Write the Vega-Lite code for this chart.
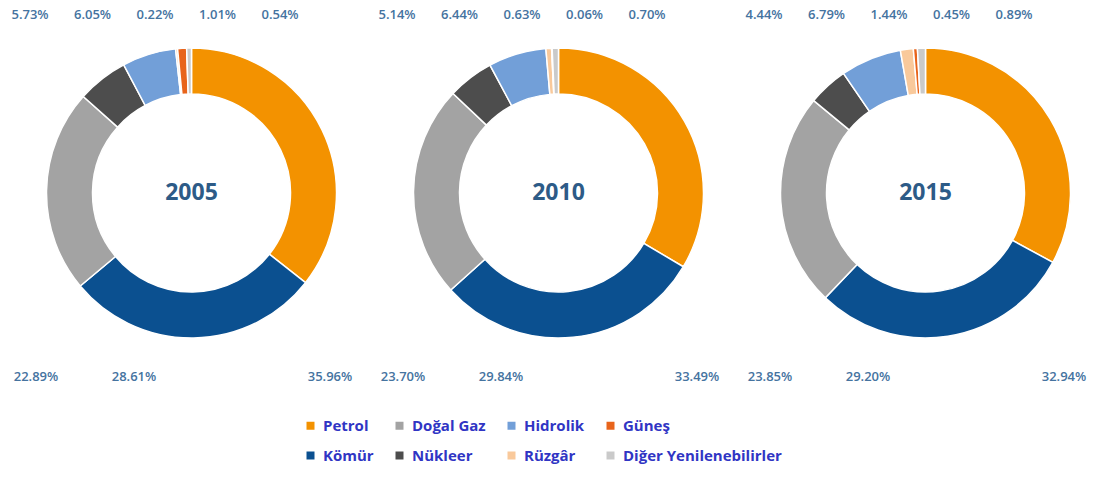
{
  "$schema": "https://vega.github.io/schema/vega-lite/v6.json",
  "padding": {"left": 8, "top": 0, "right": 0, "bottom": 0},
  "background": "white",
  "data": {"values": [
    {"Yil": "2005", "Kaynak": "Petrol", "Pay": 0.3596, "Sira": 1},
    {"Yil": "2005", "Kaynak": "Kömür", "Pay": 0.2861, "Sira": 2},
    {"Yil": "2005", "Kaynak": "Doğal Gaz", "Pay": 0.2289, "Sira": 3},
    {"Yil": "2005", "Kaynak": "Nükleer", "Pay": 0.0573, "Sira": 4},
    {"Yil": "2005", "Kaynak": "Hidrolik", "Pay": 0.0605, "Sira": 5},
    {"Yil": "2005", "Kaynak": "Rüzgâr", "Pay": 0.0022, "Sira": 6},
    {"Yil": "2005", "Kaynak": "Güneş", "Pay": 0.0101, "Sira": 7},
    {"Yil": "2005", "Kaynak": "Diğer Yenilenebilirler", "Pay": 0.0054, "Sira": 8},
    {"Yil": "2010", "Kaynak": "Petrol", "Pay": 0.3349, "Sira": 1},
    {"Yil": "2010", "Kaynak": "Kömür", "Pay": 0.2984, "Sira": 2},
    {"Yil": "2010", "Kaynak": "Doğal Gaz", "Pay": 0.2370, "Sira": 3},
    {"Yil": "2010", "Kaynak": "Nükleer", "Pay": 0.0514, "Sira": 4},
    {"Yil": "2010", "Kaynak": "Hidrolik", "Pay": 0.0644, "Sira": 5},
    {"Yil": "2010", "Kaynak": "Rüzgâr", "Pay": 0.0063, "Sira": 6},
    {"Yil": "2010", "Kaynak": "Güneş", "Pay": 0.0006, "Sira": 7},
    {"Yil": "2010", "Kaynak": "Diğer Yenilenebilirler", "Pay": 0.0070, "Sira": 8},
    {"Yil": "2015", "Kaynak": "Petrol", "Pay": 0.3294, "Sira": 1},
    {"Yil": "2015", "Kaynak": "Kömür", "Pay": 0.2920, "Sira": 2},
    {"Yil": "2015", "Kaynak": "Doğal Gaz", "Pay": 0.2385, "Sira": 3},
    {"Yil": "2015", "Kaynak": "Nükleer", "Pay": 0.0444, "Sira": 4},
    {"Yil": "2015", "Kaynak": "Hidrolik", "Pay": 0.0679, "Sira": 5},
    {"Yil": "2015", "Kaynak": "Rüzgâr", "Pay": 0.0144, "Sira": 6},
    {"Yil": "2015", "Kaynak": "Güneş", "Pay": 0.0045, "Sira": 7},
    {"Yil": "2015", "Kaynak": "Diğer Yenilenebilirler", "Pay": 0.0089, "Sira": 8}
  ]},
  "facet": {"column": {"field": "Yil", "type": "ordinal", "header": null}},
  "spacing": 0,
  "spec": {
    "width": 367,
    "height": 386,
    "layer": [
      {
        "mark": {"type": "arc", "innerRadius": 99, "outerRadius": 145, "stroke": "white", "strokeWidth": 1.5},
        "encoding": {
          "theta": {"field": "Pay", "type": "quantitative", "stack": true},
          "order": {"field": "Sira", "type": "quantitative"},
          "color": {
            "field": "Kaynak", "type": "nominal",
            "scale": {
              "domain": ["Petrol", "Doğal Gaz", "Hidrolik", "Güneş", "Kömür", "Nükleer", "Rüzgâr", "Diğer Yenilenebilirler"],
              "range": ["#f39200", "#a3a3a3", "#729fd8", "#e8641b", "#0b5090", "#4d4d4d", "#f9c99b", "#cacaca"]
            },
            "legend": {
              "title": null, "orient": "none", "legendX": 295, "legendY": 418,
              "columns": 4, "direction": "horizontal", "gridAlign": "each",
              "columnPadding": 18, "rowPadding": 14, "padding": 0,
              "symbolType": "square", "symbolSize": 64, "symbolStrokeWidth": 0,
              "labelFont": "Open Sans", "labelFontSize": 15, "labelFontWeight": "bold",
              "labelColor": "#3035c4", "labelOffset": 5, "labelLimit": 300
            }
          }
        }
      },
      {
        "transform": [{"filter": "datum.Sira == 1"}],
        "mark": {"type": "text", "font": "Open Sans", "fontSize": 23, "fontWeight": "bold", "color": "#2d5b87", "baseline": "middle", "align": "center"},
        "encoding": {"text": {"field": "Yil", "type": "nominal"}}
      },
      {
        "transform": [{"filter": {"field": "Kaynak", "oneOf": ["Nükleer", "Hidrolik", "Rüzgâr", "Güneş", "Diğer Yenilenebilirler"]}}],
        "mark": {"type": "text", "font": "Open Sans", "fontSize": 13, "fontWeight": 600, "color": "#45739f", "baseline": "middle", "align": "center"},
        "encoding": {
          "x": {"field": "Kaynak", "type": "nominal", "axis": null,
                "scale": {"type": "point", "domain": ["Nükleer", "Hidrolik", "Rüzgâr", "Güneş", "Diğer Yenilenebilirler"], "range": [22, 272], "padding": 0}},
          "y": {"value": 15},
          "text": {"field": "Pay", "type": "quantitative", "format": ".2%"}
        }
      },
      {
        "transform": [{"filter": {"field": "Kaynak", "oneOf": ["Doğal Gaz", "Kömür", "Petrol"]}}],
        "mark": {"type": "text", "font": "Open Sans", "fontSize": 13, "fontWeight": 600, "color": "#45739f", "baseline": "middle", "align": "center"},
        "encoding": {
          "x": {"field": "Kaynak", "type": "nominal", "axis": null,
                "scale": {"type": "point", "domain": ["Doğal Gaz", "Kömür", " ", "Petrol"], "range": [28, 322], "padding": 0}},
          "y": {"value": 377},
          "text": {"field": "Pay", "type": "quantitative", "format": ".2%"}
        }
      }
    ],
    "resolve": {"scale": {"x": "independent"}}
  },
  "config": {"view": {"stroke": null}}
}
